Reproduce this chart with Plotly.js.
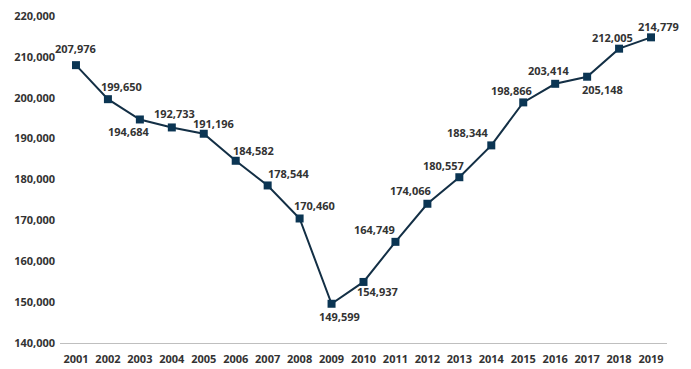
<!DOCTYPE html>
<html>
<head>
<meta charset="utf-8">
<script src="https://cdn.plot.ly/plotly-3.0.1.min.js"></script>
<style>html,body{margin:0;padding:0;background:#fff;}#chart{width:691px;height:369px;}</style>
</head>
<body>
<div id="chart"></div>
<script>
const years = ["2001","2002","2003","2004","2005","2006","2007","2008","2009","2010","2011","2012","2013","2014","2015","2016","2017","2018","2019"];
const values = [207976,199650,194684,192733,191196,184582,178544,170460,149599,154937,164749,174066,180557,188344,198866,203414,205148,212005,214779];
const yTicks = [140000,150000,160000,170000,180000,190000,200000,210000,220000];

// label offsets in pixels [dx, dy(up positive)]
const labelOffsets = [[0,17],[14,13],[-11,-12],[3,14],[10,10],[18,10],[21,12],[15,13],[8,-13],[14,-10],[-21,12],[-17,13],[-16,12],[-23,13],[-12,12],[-6,13],[15,-13],[-7,11],[7,11]];

const fmt = v => v.toLocaleString('en-US');
const textColor = '#333333';
const fontFam = '"Open Sans", "Noto Sans", sans-serif';

const annotations = years.map((y, i) => ({
  x: i, y: values[i], xref: 'x', yref: 'y', text: fmt(values[i]), showarrow: false,
  xshift: labelOffsets[i][0], yshift: labelOffsets[i][1],
  font: {family: fontFam, size: 11, color: textColor, weight: 'bold'}
}));

const trace = {
  x: years, y: values, type: 'scatter', mode: 'lines+markers',
  line: {color: '#132f45', width: 2},
  marker: {symbol: 'square', size: 8, color: '#0b3553'},
  hoverinfo: 'none'
};

const layout = {
  width: 691, height: 369,
  margin: {l: 60, r: 24, t: 16, b: 26},
  paper_bgcolor: '#ffffff', plot_bgcolor: '#ffffff',
  showlegend: false,
  font: {family: fontFam, size: 11, color: textColor, weight: 'bold'},
  xaxis: {
    type: 'category', range: [-0.5, 18.5], showgrid: false, zeroline: false,
    showline: true, linecolor: '#bfbfbf', linewidth: 1, ticks: '',
    tickfont: {family: fontFam, size: 11, color: textColor, weight: 'bold'},
    ticklabelstandoff: 6
  },
  yaxis: {
    range: [140000, 220000], tickvals: yTicks, ticktext: yTicks.map(fmt),
    showgrid: false, zeroline: false, showline: false, ticks: '',
    tickfont: {family: fontFam, size: 11, color: textColor, weight: 'bold'},
    ticklabelstandoff: 4
  },
  annotations: annotations
};

Plotly.newPlot('chart', [trace], layout, {displayModeBar: false, staticPlot: true});
</script>
</body>
</html>
